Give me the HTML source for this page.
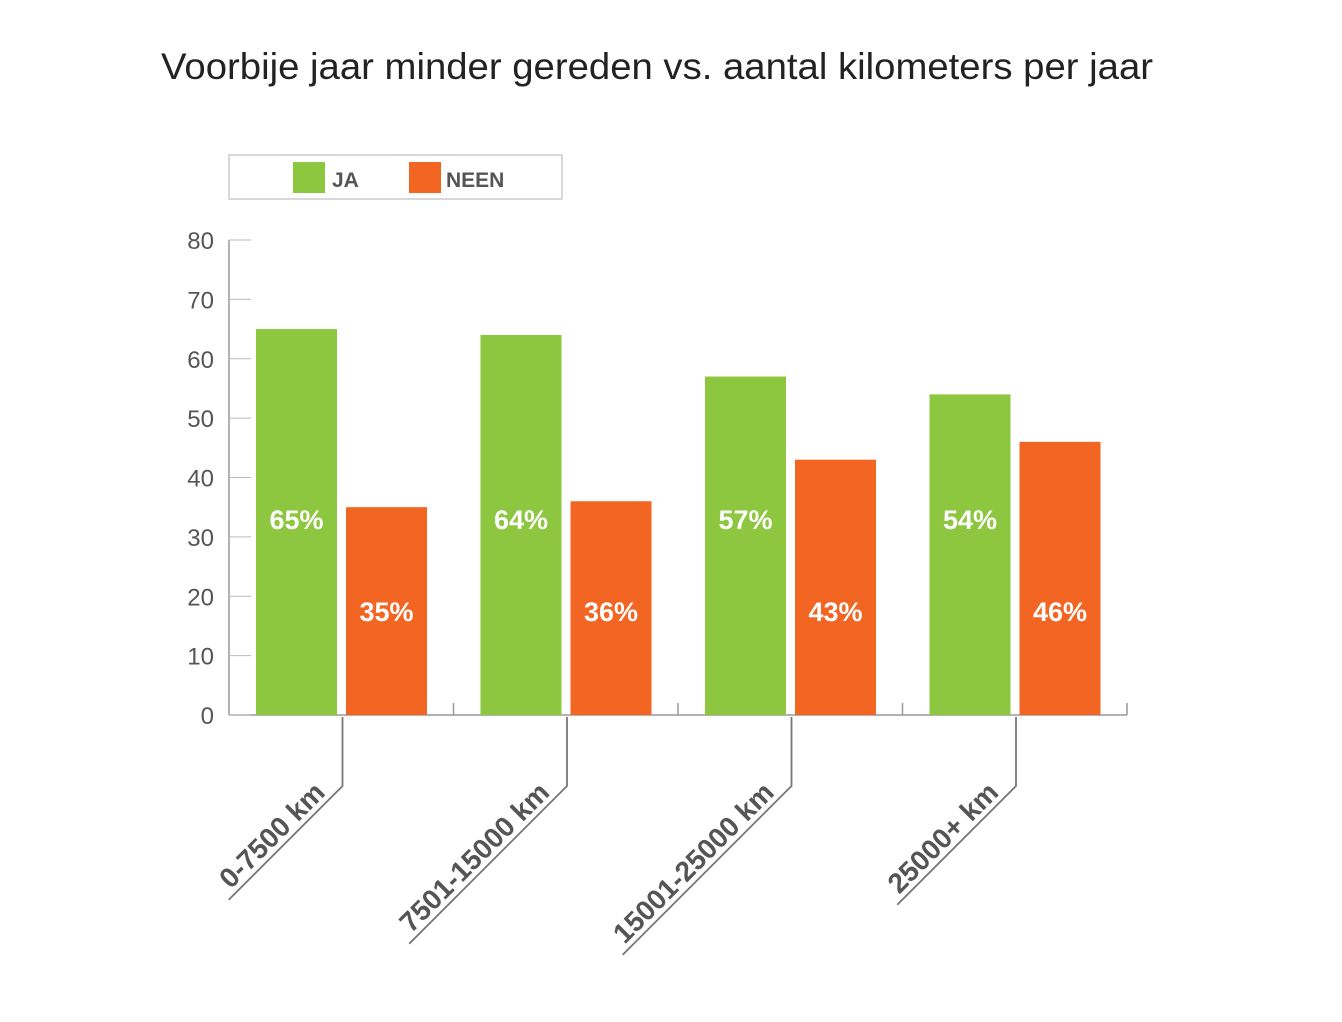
<!DOCTYPE html>
<html><head><meta charset="utf-8"><style>
body{margin:0;background:#fff;}
svg{display:block;font-family:"Liberation Sans",sans-serif;}
</style></head><body>
<svg id="chart" width="1342" height="1022" viewBox="0 0 1342 1022">
<text x="657" y="79" text-anchor="middle" font-size="37" fill="#222" textLength="992" lengthAdjust="spacingAndGlyphs">Voorbije jaar minder gereden vs. aantal kilometers per jaar</text>
<g>
<rect x="229" y="155" width="333" height="44" fill="#fff" stroke="#ccc" stroke-width="1.5"/>
<rect x="293" y="162" width="32" height="31" fill="#8dc63f"/>
<text x="332" y="187" font-size="21" font-weight="bold" fill="#555">JA</text>
<rect x="409" y="162" width="32" height="31" fill="#f26522"/>
<text x="446" y="187" font-size="21" font-weight="bold" fill="#555">NEEN</text>
</g>
<g id="axes"></g><g id="bars"></g><g id="xlabels"></g>
</svg>
<script>
const categories=["0-7500 km","7501-15000 km","15001-25000 km","25000+ km"];
const jaValues=[65,64,57,54];
const neenValues=[35,36,43,46];
const yTicks=[0,10,20,30,40,50,60,70,80];
const NS="http://www.w3.org/2000/svg";
const x0=229,x1=1127,yBase=715,yTop=240,yMax=80;
const y=v=>yBase-(v/yMax)*(yBase-yTop);
const gw=(x1-x0)/categories.length;
function mk(tag,attrs,parent){const e=document.createElementNS(NS,tag);for(const k in attrs)e.setAttribute(k,attrs[k]);parent.appendChild(e);return e;}
const axes=document.getElementById('axes'),bars=document.getElementById('bars'),xl=document.getElementById('xlabels');
let a=mk('line',{x1:x0,y1:yTop,x2:x0,y2:yBase,stroke:'#999','stroke-width':1.5},axes);


a=mk('line',{x1:x0,y1:yBase,x2:x1,y2:yBase,stroke:'#999','stroke-width':1.5},axes);


yTicks.forEach(t=>{
 const tx=mk('text',{x:214,y:y(t)+9,'text-anchor':'end','font-size':24,fill:'#555'},axes);
 tx.textContent=t;
 
 
 const tl=mk('line',{x1:x0,y1:y(t),x2:x0+22,y2:y(t),stroke:'#bbb','stroke-width':1},axes);
 
 
});
for(let i=1;i<=categories.length;i++){
 const tk=mk('line',{x1:x0+gw*i,y1:yBase-12,x2:x0+gw*i,y2:yBase,stroke:'#999','stroke-width':1.5},axes);
 
 
}
categories.forEach((c,i)=>{
 const gx=x0+gw*i;
 const bw=81;
 const gxJ=gx+27,gxN=gx+117;
 const r1=mk('rect',{x:gxJ,y:y(jaValues[i]),width:bw,height:yBase-y(jaValues[i]),fill:'#8dc63f'},bars);
 
 
 const r2=mk('rect',{x:gxN,y:y(neenValues[i]),width:bw,height:yBase-y(neenValues[i]),fill:'#f26522'},bars);
 
 
 const t1=mk('text',{x:gxJ+bw/2,y:529,'text-anchor':'middle','font-size':27,'font-weight':'bold',fill:'#fff'},bars);
 t1.textContent=jaValues[i]+'%';
 
 
 const t2=mk('text',{x:gxN+bw/2,y:621,'text-anchor':'middle','font-size':27,'font-weight':'bold',fill:'#fff'},bars);
 t2.textContent=neenValues[i]+'%';
 
 
 const bx=gx+113.5,by=786;
 const lbl=mk('text',{x:0,y:0,'text-anchor':'end','font-size':28,'font-weight':'bold',fill:'#555',transform:`translate(${bx-16},${by+8}) rotate(-45)`},xl);
 lbl.textContent=c;
 
 
 const len=lbl.getComputedTextLength()/Math.SQRT2+18;
 const ld=mk('polyline',{points:`${bx},${yBase+2} ${bx},${by} ${bx-len},${by+len}`,fill:'none',stroke:'#777','stroke-width':1.8},xl);
 
 
});
</script>
</body></html>
